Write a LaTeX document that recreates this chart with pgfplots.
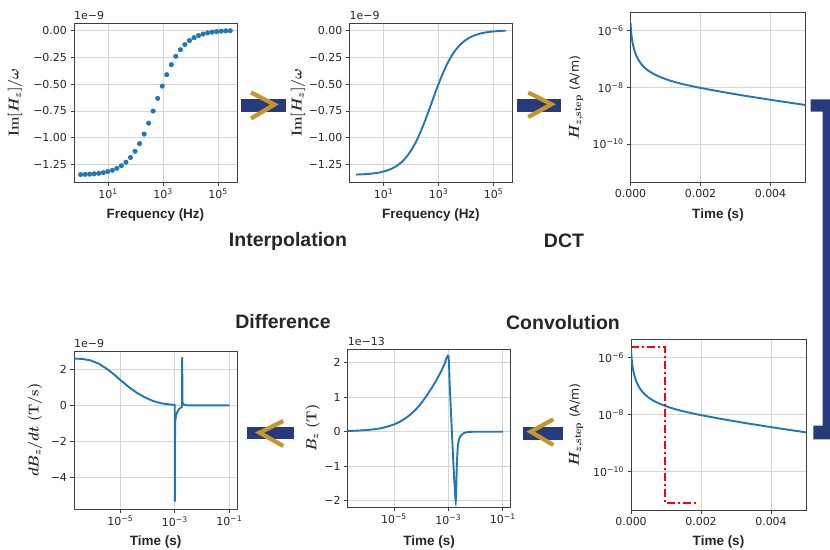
\documentclass[border=0pt]{standalone}
\usepackage{fontspec}
\setmainfont{DejaVu Sans}
\newfontfamily\lsans{Liberation Sans}
\usepackage{amsmath,amssymb,bm}
\usepackage{pgfplots}
\pgfplotsset{compat=1.18}
\usepackage{pgfplotstable}
\definecolor{mplblue}{HTML}{1F77B4}
\definecolor{navy}{HTML}{263A7C}
\definecolor{gold}{HTML}{C4962C}

\pgfplotstableread{
f y
1 -1.341
1.462 -1.339
2.138 -1.337
3.126 -1.334
4.571 -1.329
6.683 -1.323
9.772 -1.313
14.29 -1.301
20.89 -1.283
30.55 -1.259
44.67 -1.226
65.31 -1.182
95.50 -1.125
139.6 -1.053
204.2 -0.965
298.5 -0.863
436.5 -0.751
638.3 -0.633
933.3 -0.519
1365 -0.413
1995 -0.320
2917 -0.242
4266 -0.181
6237 -0.133
9120 -0.0963
13335 -0.0693
19498 -0.0496
28510 -0.0354
41687 -0.0251
60954 -0.0178
89125 -0.0126
130317 -0.0089
190546 -0.0063
278612 -0.0045
}\imdata

\pgfplotstableread{
t h
0 1.85e-6
0.000019 8.75e-7
0.000038 5.4e-7
0.0000667 3.32e-7
0.0001143 1.94e-7
0.0001619 1.34e-7
0.0002286 9.19e-8
0.0003048 6.65e-8
0.0004 4.95e-8
0.000495 3.95e-8
0.000638 3.05e-8
0.000781 2.49e-8
0.000971 2.01e-8
0.001162 1.67e-8
0.001352 1.43e-8
0.001638 1.175e-8
0.0020 9.48e-9
0.0024 7.66e-9
0.002781 6.31e-9
0.003257 5.02e-9
0.003733 4.06e-9
0.00421 3.29e-9
0.00497 2.39e-9
0.0050 2.36e-9
}\hstep

\pgfplotstableread{
t b
2e-7 0.02
1e-6 0.05
3.2e-6 0.10
1e-5 0.21
2e-5 0.33
4e-5 0.50
8e-5 0.73
1.6e-4 1.05
3.2e-4 1.42
5e-4 1.70
7.1e-4 1.95
1e-3 2.20
1.12e-3 1.35
1.26e-3 0.5
1.41e-3 -0.35
1.58e-3 -1.15
1.74e-3 -1.7
1.86e-3 -2.02
1.95e-3 -1.6
2.04e-3 -1.0
2.19e-3 -0.5
2.4e-3 -0.25
2.8e-3 -0.12
3.5e-3 -0.05
5e-3 -0.01
1e-2 0
0.1 0
}\bzdata

\pgfplotstableread{
t d
2e-7 2.60
4e-7 2.58
8e-7 2.50
1.6e-6 2.32
3.2e-6 2.03
6.3e-6 1.68
1e-5 1.41
2e-5 1.03
4e-5 0.70
8e-5 0.44
1.6e-4 0.24
3.2e-4 0.11
5.6e-4 0.06
9.0e-4 0.03
9.9e-4 0.02
1.0e-3 -5.35
1.02e-3 -1.0
1.1e-3 -0.54
1.38e-3 -0.22
1.74e-3 -0.11
1.83e-3 -0.08
1.86e-3 2.68
1.90e-3 0.2
2.0e-3 0.06
2.3e-3 0.02
3e-3 0
0.1 0
}\dbdata

\pgfplotsset{
 myaxis/.style={
  scale only axis, anchor=north west, clip mode=individual,
  axis line style={black!75, line width=0.9pt},
  grid=major, major grid style={black!17, line width=0.8pt},
  tick align=outside, major tick length=3.5pt, minor tick length=0pt,
  tick pos=left,
  tick style={black!75, line width=0.8pt},
  tick label style={font=\fontsize{11}{13}\selectfont, text=black!85},
  xlabel style={font=\lsans\bfseries\fontsize{13.5}{16}\selectfont, anchor=center, text=black!85},
  ylabel style={font=\fontsize{14}{16}\selectfont\boldmath, anchor=center, text=black!85},
  scaled ticks=false,
 },
}
\tikzset{offs/.style={anchor=south west, inner sep=0pt, font=\fontsize{11}{13}\selectfont, text=black!85}}

\begin{document}
\begin{tikzpicture}[x=1pt,y=1pt]
\useasboundingbox (0,0) rectangle (830,-549);

% ---------- Plot 1 ----------
\begin{axis}[myaxis, at={(74pt,-23pt)}, width=163pt, height=159pt,
  xmode=log, xmin=0.575, xmax=489778, ymin=-1.41, ymax=0.067,
  xtick={10,1000,100000}, xticklabels={10\textsuperscript{1},10\textsuperscript{3},10\textsuperscript{5}},
  ytick={0,-0.25,-0.5,-0.75,-1,-1.25}, yticklabels={0.00,−0.25,−0.50,−0.75,−1.00,−1.25},
  xlabel={Frequency (Hz)}, ylabel={$\mathbf{Im}[H_z]/\omega$},
  xlabel style={at={(axis description cs:0.5,-0.2075)}},
  ylabel style={at={(axis description cs:-0.362,0.5)}}]
\addplot[only marks, mark=*, mark size=2.3pt, mplblue] table {\imdata};
\node[offs] at (axis description cs:0,1.02) {1e−9};
\end{axis}

% ---------- Plot 2 ----------
\begin{axis}[myaxis, at={(349.5pt,-23pt)}, width=163pt, height=159pt,
  xmode=log, xmin=0.575, xmax=489778, ymin=-1.41, ymax=0.067,
  xtick={10,1000,100000}, xticklabels={10\textsuperscript{1},10\textsuperscript{3},10\textsuperscript{5}},
  ytick={0,-0.25,-0.5,-0.75,-1,-1.25}, yticklabels={0.00,−0.25,−0.50,−0.75,−1.00,−1.25},
  xlabel={Frequency (Hz)}, ylabel={$\mathbf{Im}[H_z]/\omega$},
  xlabel style={at={(axis description cs:0.5,-0.2075)}},
  ylabel style={at={(axis description cs:-0.316,0.5)}}]
\addplot[mplblue, line width=1.9pt, smooth] table {\imdata};
\node[offs] at (axis description cs:0,1.02) {1e−9};
\end{axis}

% ---------- Plot 3 ----------
\begin{axis}[myaxis, at={(630.5pt,-12.7pt)}, width=175pt, height=170pt,
  xmin=0, xmax=0.005, ymode=log, ymin=4.27e-12, ymax=4.27e-6,
  xtick={0,0.002,0.004}, xticklabels={0.000,0.002,0.004},
  ytick={1e-6,1e-8,1e-10}, yticklabels={10\textsuperscript{−6},10\textsuperscript{−8},10\textsuperscript{−10}},
  xlabel={Time (s)}, ylabel={$H_{z,\mathbf{step}}$ {\unboldmath\fontsize{12.5}{15}\selectfont(A/m)}},
  xlabel style={at={(axis description cs:0.5,-0.19)}},
  ylabel style={at={(axis description cs:-0.311,0.5)}}]
\addplot[mplblue, line width=1.9pt, smooth] table {\hstep};
\end{axis}

% ---------- Plot 4 ----------
\begin{axis}[myaxis, at={(74pt,-351pt)}, width=163.3pt, height=158.3pt,
  xmode=log, xmin=2e-7, xmax=0.195, ymin=-5.78, ymax=3.02,
  xtick={1e-5,1e-3,1e-1}, xticklabels={10\textsuperscript{−5},10\textsuperscript{−3},10\textsuperscript{−1}},
  ytick={-4,-2,0,2}, yticklabels={−4,−2,0,2},
  xlabel={Time (s)}, ylabel={$dB_z/dt\ \mathbf{(T/s)}$},
  xlabel style={at={(axis description cs:0.5,-0.205)}},
  ylabel style={at={(axis description cs:-0.239,0.5)}}]
\addplot[mplblue, line width=1.9pt] table {\dbdata};
\node[offs] at (axis description cs:0,1.02) {1e−9};
\end{axis}

% ---------- Plot 5 ----------
\begin{axis}[myaxis, at={(347.7pt,-349.3pt)}, width=163pt, height=158pt,
  xmode=log, xmin=2e-7, xmax=0.195, ymin=-2.19, ymax=2.39,
  xtick={1e-5,1e-3,1e-1}, xticklabels={10\textsuperscript{−5},10\textsuperscript{−3},10\textsuperscript{−1}},
  ytick={-2,-1,0,1,2}, yticklabels={−2,−1,0,1,2},
  xlabel={Time (s)}, ylabel={$B_z\ \mathbf{(T)}$},
  xlabel style={at={(axis description cs:0.5,-0.218)}},
  ylabel style={at={(axis description cs:-0.215,0.5)}}]
\addplot[mplblue, line width=1.9pt, smooth] table {\bzdata};
\node[offs] at (axis description cs:0,1.02) {1e−13};
\end{axis}

% ---------- Plot 6 ----------
\begin{axis}[myaxis, at={(631pt,-339.3pt)}, width=175pt, height=171.4pt,
  xmin=0, xmax=0.005, ymode=log, ymin=4.27e-12, ymax=4.27e-6,
  xtick={0,0.002,0.004}, xticklabels={0.000,0.002,0.004},
  ytick={1e-6,1e-8,1e-10}, yticklabels={10\textsuperscript{−6},10\textsuperscript{−8},10\textsuperscript{−10}},
  xlabel={Time (s)}, ylabel={$H_{z,\mathbf{step}}$ {\unboldmath\fontsize{12.5}{15}\selectfont(A/m)}},
  xlabel style={at={(axis description cs:0.5,-0.181)}},
  ylabel style={at={(axis description cs:-0.314,0.5)}}]
\addplot[mplblue, line width=1.9pt, smooth] table {\hstep};
\addplot[red, line width=2pt, dash pattern=on 8pt off 3pt on 2pt off 3pt] coordinates {(0,2.3e-6) (0.00096,2.3e-6) (0.00096,8e-12) (0.0019,8e-12)};
\end{axis}

% ---------- arrows ----------
\fill[navy] (241,-99.3) rectangle (285.7,-112.3);
\draw[gold, line width=4.2pt, line join=miter] (251,-92.5) -- (274.5,-104.5) -- (251,-118.5);
\fill[navy] (516.7,-99.3) rectangle (561,-112.3);
\draw[gold, line width=4.2pt, line join=miter] (528.3,-92.5) -- (551.5,-104.3) -- (528.3,-117);
\fill[navy] (247.3,-426.7) rectangle (294,-439.3);
\draw[gold, line width=4.2pt, line join=miter] (283.3,-421) -- (259.5,-432.7) -- (283.3,-446);
\fill[navy] (522.7,-426.7) rectangle (562.7,-440);
\draw[gold, line width=4.2pt, line join=miter] (553.3,-419.3) -- (530.7,-431.7) -- (553.3,-445);
\fill[navy] (810.7,-99.3) -- (830,-99.3) -- (830,-439.3) -- (813.3,-439.3) -- (813.3,-425.7) -- (822.7,-425.7) -- (822.7,-111.7) -- (810.7,-111.7) -- cycle;

% ---------- step titles ----------
\node[font=\lsans\bfseries\fontsize{19.5}{22}\selectfont, text=black!85] at (288,-241) {Interpolation};
\node[font=\lsans\bfseries\fontsize{19.5}{22}\selectfont, text=black!85] at (564,-241) {DCT};
\node[font=\lsans\bfseries\fontsize{19.5}{22}\selectfont, text=black!85] at (283,-322) {Difference};
\node[font=\lsans\bfseries\fontsize{19.5}{22}\selectfont, text=black!85] at (563,-323) {Convolution};
\end{tikzpicture}
\end{document}
